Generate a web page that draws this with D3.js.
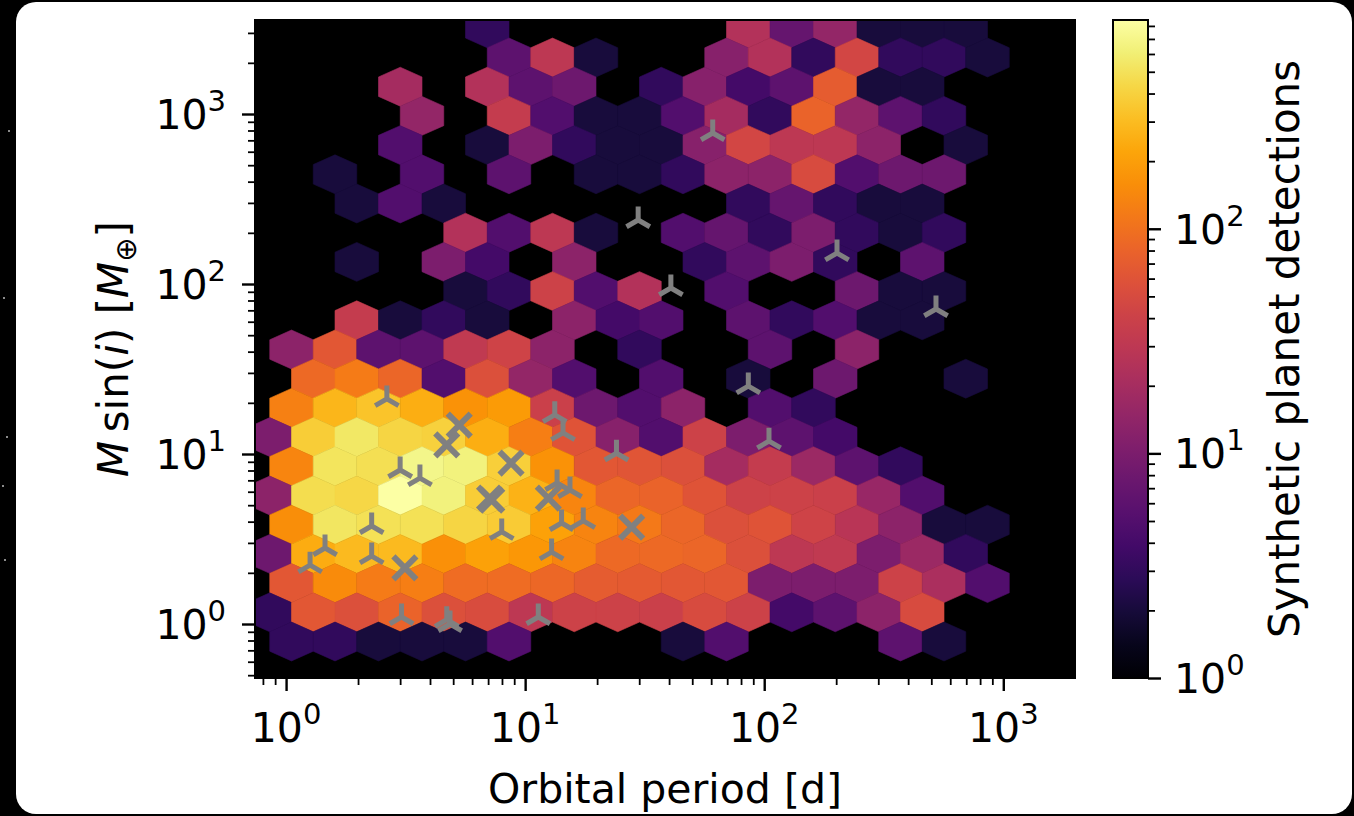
<!DOCTYPE html>
<html>
<head>
<meta charset="utf-8">
<script src="https://cdnjs.cloudflare.com/ajax/libs/d3/7.8.5/d3.min.js"></script>
<style>
  html, body { margin: 0; padding: 0; background: #000; }
  svg { display: block; font-family: "DejaVu Sans", sans-serif; }
</style>
</head>
<body>
<div class="chart"></div>
<script>
(function(){

//hexbin counts, one array per hex row (top row first), 0 = empty bin
var hexRows = [
    [0,0,0,0,0,3,0,0,0,0,0,25,7,15,2,2,2,0,0],
    [0,0,0,0,0,6,30,2,0,0,12,25,3,45,3,3,2,0,0],
    [0,0,0,20,0,25,6,8,0,3,12,4,6,70,2,2,0,0,0],
    [0,0,0,15,0,35,5,2,2,5,20,3,80,15,6,3,0,0,0],
    [0,0,0,5,0,2,10,3,2,2,12,45,30,30,13,0,2,0,0],
    [0,2,0,5,0,6,0,2,2,3,13,13,50,5,8,8,0,0,0],
    [0,0,2,5,2,0,0,0,0,0,0,3,7,3,2,2,0,0,0],
    [0,0,0,0,25,5,30,2,0,5,7,3,10,3,2,3,0,0,0],
    [0,0,2,0,10,4,0,13,0,0,3,6,10,3,0,6,0,0,0],
    [0,0,0,0,2,3,40,5,25,0,5,0,0,8,2,2,0,0,0],
    [0,0,35,2,3,2,0,13,4,5,0,6,3,5,2,2,0,0,0],
    [13,65,6,6,32,42,13,0,3,0,0,6,0,13,0,0,0,0,0],
    [0,90,120,85,5,55,15,5,0,5,0,2,0,8,0,0,2,0,0],
    [130,280,330,250,170,190,38,8,5,13,0,5,3,0,0,0,0,0,0],
    [10,380,550,420,400,250,125,60,12,5,40,10,6,4,0,0,0,0,0],
    [140,520,480,700,650,390,170,65,62,55,20,35,17,6,3,0,0,0,0],
    [13,470,430,850,640,380,260,140,85,80,60,40,40,38,16,5,0,0,0],
    [160,540,500,500,420,370,210,135,115,85,55,60,42,28,13,2,2,0,0],
    [8,240,290,290,165,210,180,135,90,90,85,55,30,32,10,17,3,0,0],
    [65,150,120,125,95,95,88,70,68,65,65,10,10,10,40,22,5,0,0],
    [3,65,55,80,55,52,30,40,40,38,50,40,4,6,13,50,0,0,0],
    [3,3,2,2,2,5,0,0,0,2,5,0,0,0,6,2,0,0,0]
];
var firstRow = -1;          //index of the top row (odd rows are shifted half a bin left)

//hex grid in log10 units
var gridX0 = 0.0227,  gridDX = 0.18196;   //period
var gridY0 = 3.3324,  gridDY = 0.17176;   //mass (row spacing)

//known planets [period d, M sin i]
var triPlanets = [
    [60.9, 773], [29.7, 238], [40.7, 94.7], [201.6, 152], [523, 71.3], [85.8, 25.1], [104.7, 11.9],
    [2.64, 21.1], [3.00, 8.05], [3.63, 7.22], [13.3, 17.0], [14.4, 13.3], [24.1, 10.1], [13.6, 6.75],
    [15.4, 6.14], [2.28, 3.77], [7.98, 3.48], [14.2, 3.93], [17.5, 4.04], [1.455, 2.80], [2.28, 2.51],
    [12.9, 2.65], [1.26, 2.22], [3.04, 1.10], [4.70, 1.06], [4.85, 1.00], [11.35, 1.10]
];
var crossPlanets = [
    [5.30, 14.8], [4.70, 11.3], [8.73, 8.85], [7.25, 5.36], [7.1, 5.5], [12.5, 5.51], [27.9, 3.72], [3.14, 2.14]
];

var periodTicks = [1, 10, 100, 1000];
var massTicks = [1, 10, 100, 1000];
var countTicks = [1, 10, 100];

var periodDomain = [Math.pow(10, -0.13), Math.pow(10, 3.30)];
var massDomain = [Math.pow(10, -0.3176), Math.pow(10, 3.553)];

window.onload = drawChart();

function drawChart(){

    var width = 1354,
        height = 816;

    var plot = {left: 255, right: 1075, top: 20, bottom: 678};
    var cbar = {left: 1113, right: 1148};
    var fs = 41;

    var svg = d3.select(".chart")
        .append("svg")
        .attr("width", width)
        .attr("height", height);

    //slide card
    svg.append("rect")
        .attr("x", 16).attr("y", 2)
        .attr("width", 1336).attr("height", 812)
        .attr("rx", 20)
        .style("fill", "#fff");

    [[4, 298], [7, 437], [3, 486], [9, 131], [5, 560]].forEach(function(s){
        svg.append("circle").attr("cx", s[0]).attr("cy", s[1]).attr("r", 1)
            .style("fill", "#bbb");
    });

    var x = d3.scaleLog().domain(periodDomain).range([plot.left, plot.right]);
    var y = d3.scaleLog().domain(massDomain).range([plot.bottom, plot.top]);

    //flatten grid into bins
    var bins = [];
    hexRows.forEach(function(row, r){
        var j = r + firstRow;
        var shift = (Math.abs(j) % 2 === 1) ? 0.5 : 0;
        row.forEach(function(c, m){
            if (c > 0) {
                bins.push({lx: gridX0 + (m - shift) * gridDX, ly: gridY0 - j * gridDY, count: c});
            }
        });
    });

    var vmax = d3.max(bins, function(d){ return d.count; });
    var color = d3.scaleSequentialLog(d3.interpolateInferno).domain([1, vmax]);

    svg.append("clipPath").attr("id", "plotclip")
        .append("rect")
        .attr("x", plot.left).attr("y", plot.top)
        .attr("width", plot.right - plot.left).attr("height", plot.bottom - plot.top);

    svg.append("rect")
        .attr("x", plot.left).attr("y", plot.top)
        .attr("width", plot.right - plot.left).attr("height", plot.bottom - plot.top)
        .style("fill", "#000");

    var hx = gridDX / 2, hy1 = gridDY / 3, hy2 = 2 * gridDY / 3;
    var corners = [[hx, -hy1], [hx, hy1], [0, hy2], [-hx, hy1], [-hx, -hy1], [0, -hy2]];

    var hexLayer = svg.append("g").attr("clip-path", "url(#plotclip)");
    hexLayer.selectAll(".hex")
        .data(bins)
        .enter()
        .append("path")
        .attr("class", "hex")
        .attr("d", function(d){
            return "M" + corners.map(function(c){
                return x(Math.pow(10, d.lx + c[0])) + "," + y(Math.pow(10, d.ly + c[1]));
            }).join("L") + "Z";
        })
        .style("fill", function(d){ return color(d.count); })
        .style("stroke", function(d){ return color(d.count); })
        .style("stroke-width", 0.6);

    //planets
    var markers = svg.append("g").attr("clip-path", "url(#plotclip)")
        .style("stroke", "#808080").style("fill", "none");

    var rt = 13.5;
    markers.selectAll(".tri")
        .data(triPlanets)
        .enter()
        .append("path")
        .attr("class", "tri")
        .attr("d", function(d){
            var cx = x(d[0]), cy = y(d[1]);
            return "M" + cx + "," + cy + "L" + cx + "," + (cy - rt) +
                   "M" + cx + "," + cy + "L" + (cx - 0.866 * rt) + "," + (cy + 0.5 * rt) +
                   "M" + cx + "," + cy + "L" + (cx + 0.866 * rt) + "," + (cy + 0.5 * rt);
        })
        .style("stroke-width", 5);

    var rx = 11.5;
    markers.selectAll(".cross")
        .data(crossPlanets)
        .enter()
        .append("path")
        .attr("class", "cross")
        .attr("d", function(d){
            var cx = x(d[0]), cy = y(d[1]);
            return "M" + (cx - rx) + "," + (cy - rx) + "L" + (cx + rx) + "," + (cy + rx) +
                   "M" + (cx - rx) + "," + (cy + rx) + "L" + (cx + rx) + "," + (cy - rx);
        })
        .style("stroke-width", 6);

    //frame
    svg.append("rect")
        .attr("x", plot.left).attr("y", plot.top)
        .attr("width", plot.right - plot.left).attr("height", plot.bottom - plot.top)
        .style("fill", "none").style("stroke", "#000").style("stroke-width", 2);

    //axes
    function minorTicks(domain){
        var out = [];
        for (var e = -2; e <= 4; e++) {
            for (var k = 2; k <= 9; k++) {
                var v = k * Math.pow(10, e);
                if (v >= domain[0] && v <= domain[domain.length - 1]) out.push(v);
            }
        }
        return out;
    }

    function styleAxis(g, w){
        g.select(".domain").remove();
        g.selectAll("line").style("stroke", "#000").style("stroke-width", w);
    }

    svg.append("g").attr("transform", "translate(0," + plot.bottom + ")")
        .call(d3.axisBottom(x).tickValues(periodTicks).tickSize(13).tickFormat(""))
        .call(styleAxis, 2.4);
    svg.append("g").attr("transform", "translate(0," + plot.bottom + ")")
        .call(d3.axisBottom(x).tickValues(minorTicks(periodDomain)).tickSize(7).tickFormat(""))
        .call(styleAxis, 1.8);

    svg.append("g").attr("transform", "translate(" + plot.left + ",0)")
        .call(d3.axisLeft(y).tickValues(massTicks).tickSize(13).tickFormat(""))
        .call(styleAxis, 2.4);
    svg.append("g").attr("transform", "translate(" + plot.left + ",0)")
        .call(d3.axisLeft(y).tickValues(minorTicks(massDomain)).tickSize(7).tickFormat(""))
        .call(styleAxis, 1.8);

    function powLabel(sel, v){
        sel.append("tspan").text("10");
        sel.append("tspan").attr("dy", -18).style("font-size", "29px")
            .text(Math.round(Math.log10(v)));
    }

    periodTicks.forEach(function(v){
        svg.append("text")
            .attr("x", x(v)).attr("y", 742)
            .attr("text-anchor", "middle")
            .style("font-size", fs + "px")
            .call(powLabel, v);
    });

    massTicks.forEach(function(v){
        svg.append("text")
            .attr("x", 226).attr("y", y(v) + 15)
            .attr("text-anchor", "end")
            .style("font-size", fs + "px")
            .call(powLabel, v);
    });

    svg.append("text")
        .attr("x", (plot.left + plot.right) / 2).attr("y", 803)
        .attr("text-anchor", "middle")
        .style("font-size", fs + "px")
        .text("Orbital period [d]");

    var ylab = svg.append("text")
        .attr("transform", "translate(128," + ((plot.top + plot.bottom) / 2) + ") rotate(-90)")
        .attr("text-anchor", "middle")
        .style("font-size", (fs + 1) + "px");
    ylab.append("tspan").style("font-style", "italic").text("M");
    ylab.append("tspan").text("\u2009sin(");
    ylab.append("tspan").style("font-style", "italic").text("i");
    ylab.append("tspan").text(") [");
    ylab.append("tspan").style("font-style", "italic").text("M");
    ylab.append("tspan").attr("dy", 8).style("font-size", "29px").text("\u2295");
    ylab.append("tspan").attr("dy", -8).text("]");

    //colorbar
    var c = d3.scaleLog().domain([1, vmax]).range([plot.bottom, plot.top]);

    var grad = svg.append("defs").append("linearGradient")
        .attr("id", "cbgrad")
        .attr("x1", 0).attr("y1", 1).attr("x2", 0).attr("y2", 0);
    d3.range(0, 1.0001, 0.05).forEach(function(t){
        grad.append("stop").attr("offset", t).attr("stop-color", d3.interpolateInferno(t));
    });

    svg.append("rect")
        .attr("x", cbar.left).attr("y", plot.top)
        .attr("width", cbar.right - cbar.left).attr("height", plot.bottom - plot.top)
        .style("fill", "url(#cbgrad)")
        .style("stroke", "#000").style("stroke-width", 2);

    svg.append("g").attr("transform", "translate(" + cbar.right + ",0)")
        .call(d3.axisRight(c).tickValues(countTicks).tickSize(13).tickFormat(""))
        .call(styleAxis, 2.4);
    svg.append("g").attr("transform", "translate(" + cbar.right + ",0)")
        .call(d3.axisRight(c).tickValues(minorTicks([1, vmax])).tickSize(7).tickFormat(""))
        .call(styleAxis, 1.8);

    countTicks.forEach(function(v){
        svg.append("text")
            .attr("x", 1174).attr("y", c(v) + 15)
            .style("font-size", fs + "px")
            .call(powLabel, v);
    });

    svg.append("text")
        .attr("transform", "translate(1299," + ((plot.top + plot.bottom) / 2) + ") rotate(-90)")
        .attr("text-anchor", "middle")
        .style("font-size", (fs + 1) + "px")
        .text("Synthetic planet detections");
};

})();
</script>
</body>
</html>
